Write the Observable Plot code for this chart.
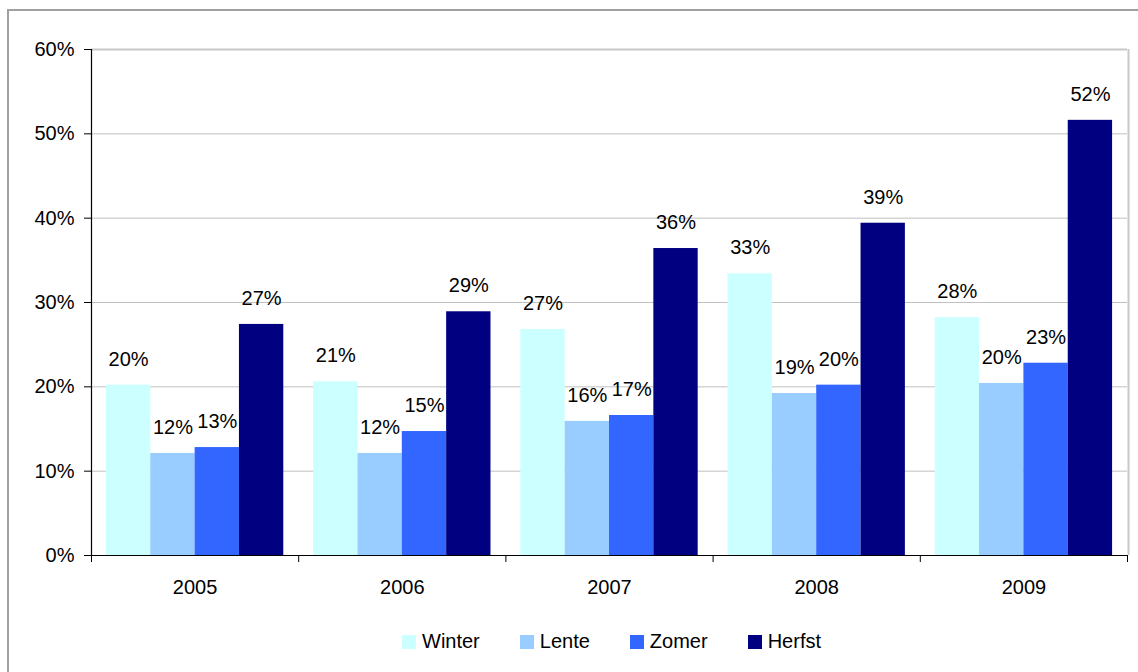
<!DOCTYPE html>
<html>
<head>
<meta charset="utf-8">
<script src="https://cdn.jsdelivr.net/npm/d3@7"></script>
<script src="https://cdn.jsdelivr.net/npm/@observablehq/plot@0.6"></script>
<style>
  html, body { margin: 0; padding: 0; background: #fff; overflow: hidden; }
  #wrap { position: relative; width: 1138px; height: 672px; font-family: "Liberation Sans", Arial, sans-serif; }
  #box { position: absolute; left: 7px; top: 9px; width: 1200px; height: 800px; border-left: 2px solid #a0a0a0; border-top: 2px solid #a0a0a0; }
  #chart { position: absolute; left: 0; top: 0; }
  #legend { position: absolute; left: 402px; top: 630px; display: flex; gap: 40px; align-items: center; font-size: 20px; color: #000; }
  #legend .item { display: flex; align-items: center; gap: 6px; }
  #legend .sw { width: 14px; height: 14px; display: inline-block; }
</style>
</head>
<body>
<div id="wrap">
  <div id="box"></div>
  <div id="chart"></div>
  <div id="legend"></div>
</div>
<script>
const years = ["2005", "2006", "2007", "2008", "2009"];
const seasons = ["Winter", "Lente", "Zomer", "Herfst"];
const colors = ["#CCFFFF", "#99CCFF", "#3366FF", "#000080"];
const winter = [0.202, 0.206, 0.268, 0.334, 0.282];
const lente  = [0.121, 0.121, 0.159, 0.192, 0.204];
const zomer  = [0.128, 0.147, 0.166, 0.202, 0.228];
const herfst = [0.274, 0.289, 0.364, 0.394, 0.516];
const yTicks = [0, 0.1, 0.2, 0.3, 0.4, 0.5, 0.6];

const series = [winter, lente, zomer, herfst];
const bw = 0.214;
const off = (1 - seasons.length * bw) / 2;
const rows = [];
years.forEach((year, yi) => {
  seasons.forEach((season, si) => {
    const x1 = yi + off + si * bw;
    rows.push({year, season, value: series[si][yi], x1, x2: x1 + bw, xc: x1 + bw / 2});
  });
});

const H = 610;
const chart = Plot.plot({
  width: 1138,
  height: H,
  marginLeft: 91,
  marginRight: 11,
  marginTop: 49,
  marginBottom: H - 555,
  style: {fontFamily: "'Liberation Sans', Arial, sans-serif", fontSize: "20px", color: "#000", background: "transparent", overflow: "visible"},
  x: {domain: [0, years.length], axis: null, label: null},
  y: {domain: [0, 0.6], axis: null, label: null},
  color: {domain: seasons, range: colors},
  marks: [
    Plot.ruleY(yTicks.slice(1, -1), {stroke: "#c0c0c0", strokeWidth: 1}),
    Plot.ruleY([0.6], {stroke: "#c8c8c8", strokeWidth: 2}),
    Plot.ruleX([years.length], {stroke: "#c8c8c8", strokeWidth: 2, dx: 1}),
    Plot.rectY(rows, {x1: "x1", x2: "x2", y: "value", fill: "season"}),
    Plot.text(rows, {x: "xc", y: "value", text: d => d3.format(".0%")(d.value), dy: -26, fontSize: 20, fill: "#000"}),
    Plot.axisY({ticks: yTicks, tickFormat: d3.format(".0%"), tickSize: 7, tickPadding: 10, fontSize: 20, stroke: "#000", label: null}),
    Plot.axisX({ticks: d3.range(years.length + 1), tickFormat: () => "", tickSize: 7, stroke: "#000", label: null}),
    Plot.axisX({ticks: years.map((_, i) => i + 0.5), tickFormat: d => years[Math.floor(d)], tickSize: 0, tickPadding: 24, fontSize: 20, label: null}),
    Plot.ruleX([0], {stroke: "#000", strokeWidth: 1.2}),
    Plot.ruleY([0], {stroke: "#000", strokeWidth: 1.2})
  ]
});
document.getElementById("chart").appendChild(chart);

const legend = document.getElementById("legend");
seasons.forEach((s, i) => {
  const item = document.createElement("div");
  item.className = "item";
  const sw = document.createElement("span");
  sw.className = "sw";
  sw.style.background = colors[i];
  const t = document.createElement("span");
  t.textContent = s;
  item.appendChild(sw);
  item.appendChild(t);
  legend.appendChild(item);
});
</script>
</body>
</html>
